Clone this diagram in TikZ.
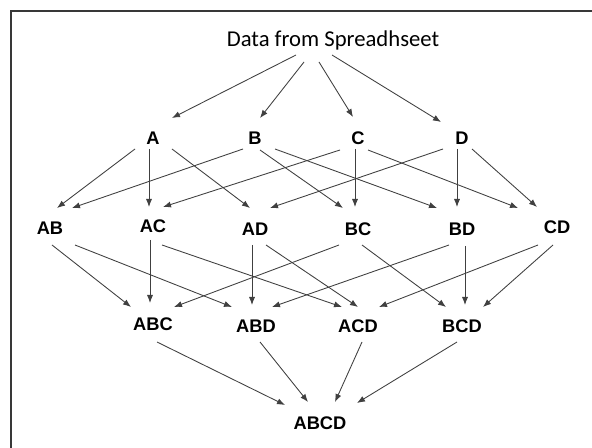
\documentclass[tikz,border=0pt]{standalone}
\usepackage{fontspec}
\setmainfont{Liberation Sans}
\newfontfamily\datafont{Carlito}
\usetikzlibrary{arrows.meta}
\begin{document}
\begin{tikzpicture}[x=0.75pt,y=-0.75pt,
  lbl/.style={inner sep=0pt, font=\fontsize{13.7}{16}\selectfont\bfseries},
  top/.style={inner sep=0pt, font=\datafont\fontsize{17}{20}\selectfont},
  arr/.style={draw=black!75, line width=0.65pt, -{Latex[length=6pt,width=4.6pt]}},
  frame/.style={draw=black!78, line width=2.2pt}]
\useasboundingbox (0,0) rectangle (592,448);
\fill[white] (0,0) rectangle (592,448);
\draw[frame] (11,470) -- (11,11) -- (610,11);

% nodes
\node[top] (data) at (333,40) {Data from Spreadhseet};
\node[lbl] (A) at (153,138) {A};
\node[lbl] (B) at (255,138) {B};
\node[lbl] (C) at (358,138) {C};
\node[lbl] (D) at (462,138) {D};
\node[lbl] (AB) at (50,228) {AB};
\node[lbl] (AC) at (153,226) {AC};
\node[lbl] (AD) at (255,229) {AD};
\node[lbl] (BC) at (358,229) {BC};
\node[lbl] (BD) at (462,229) {BD};
\node[lbl] (CD) at (557,227) {CD};
\node[lbl] (ABC) at (153,324) {ABC};
\node[lbl] (ABD) at (256,326) {ABD};
\node[lbl] (ACD) at (358,326) {ACD};
\node[lbl] (BCD) at (462,326) {BCD};
\node[lbl] (ABCD) at (320,423) {ABCD};

% data -> singles
\draw[arr] ([shift={(-37,15)}]data.center) -- ([shift={(19,-20)}]A.center);
\draw[arr] ([shift={(-29,22)}]data.center) -- ([shift={(5,-20)}]B.center);
\draw[arr] ([shift={(-14,22)}]data.center) -- ([shift={(-5,-21)}]C.center);
\draw[arr] ([shift={(-1,15)}]data.center) -- ([shift={(-21,-16)}]D.center);

% singles -> pairs
\draw[arr] ([shift={(-18,11)}]A.center) -- ([shift={(7,-20)}]AB.center);
\draw[arr] ([shift={(-4,11)}]A.center) -- ([shift={(-4,-19)}]AC.center);
\draw[arr] ([shift={(19,11)}]A.center) -- ([shift={(-5,-21)}]AD.center);
\draw[arr] ([shift={(-12,11)}]B.center) -- ([shift={(22,-20)}]AB.center);
\draw[arr] ([shift={(5,12)}]B.center) -- ([shift={(-15,-21)}]BC.center);
\draw[arr] ([shift={(20,11)}]B.center) -- ([shift={(-25,-21)}]BD.center);
\draw[arr] ([shift={(-18,12)}]C.center) -- ([shift={(10,-19)}]AC.center);
\draw[arr] ([shift={(-3,11)}]C.center) -- ([shift={(-3,-22)}]BC.center);
\draw[arr] ([shift={(10,12)}]C.center) -- ([shift={(-39,-19)}]CD.center);
\draw[arr] ([shift={(-19,11)}]D.center) -- ([shift={(15,-21)}]AD.center);
\draw[arr] ([shift={(-5,11)}]D.center) -- ([shift={(-5,-22)}]BD.center);
\draw[arr] ([shift={(10,11)}]D.center) -- ([shift={(-20,-20)}]CD.center);

% pairs -> triples
\draw[arr] ([shift={(2,17)}]AB.center) -- ([shift={(-22,-17)}]ABC.center);
\draw[arr] ([shift={(25,17)}]AB.center) -- ([shift={(-24,-19)}]ABD.center);
\draw[arr] ([shift={(-3,14)}]AC.center) -- ([shift={(-3,-21)}]ABC.center);
\draw[arr] ([shift={(9,19)}]AC.center) -- ([shift={(-16,-19)}]ACD.center);
\draw[arr] ([shift={(-3,16)}]AD.center) -- ([shift={(-4,-21)}]ABD.center);
\draw[arr] ([shift={(11,16)}]AD.center) -- ([shift={(0,-19)}]ACD.center);
\draw[arr] ([shift={(-19,16)}]BC.center) -- ([shift={(21,-17)}]ABC.center);
\draw[arr] ([shift={(4,16)}]BC.center) -- ([shift={(-16,-19)}]BCD.center);
\draw[arr] ([shift={(-13,16)}]BD.center) -- ([shift={(16,-19)}]ABD.center);
\draw[arr] ([shift={(3,17)}]BD.center) -- ([shift={(3,-21)}]BCD.center);
\draw[arr] ([shift={(-19,18)}]CD.center) -- ([shift={(21,-19)}]ACD.center);
\draw[arr] ([shift={(-4,18)}]CD.center) -- ([shift={(21,-19)}]BCD.center);

% triples -> ABCD
\draw[arr] ([shift={(4,18)}]ABC.center) -- ([shift={(-35,-18)}]ABCD.center);
\draw[arr] ([shift={(4,16)}]ABD.center) -- ([shift={(-12,-21)}]ABCD.center);
\draw[arr] ([shift={(4,16)}]ACD.center) -- ([shift={(15,-21)}]ABCD.center);
\draw[arr] ([shift={(-5,16)}]BCD.center) -- ([shift={(37,-20)}]ABCD.center);
\end{tikzpicture}
\end{document}
